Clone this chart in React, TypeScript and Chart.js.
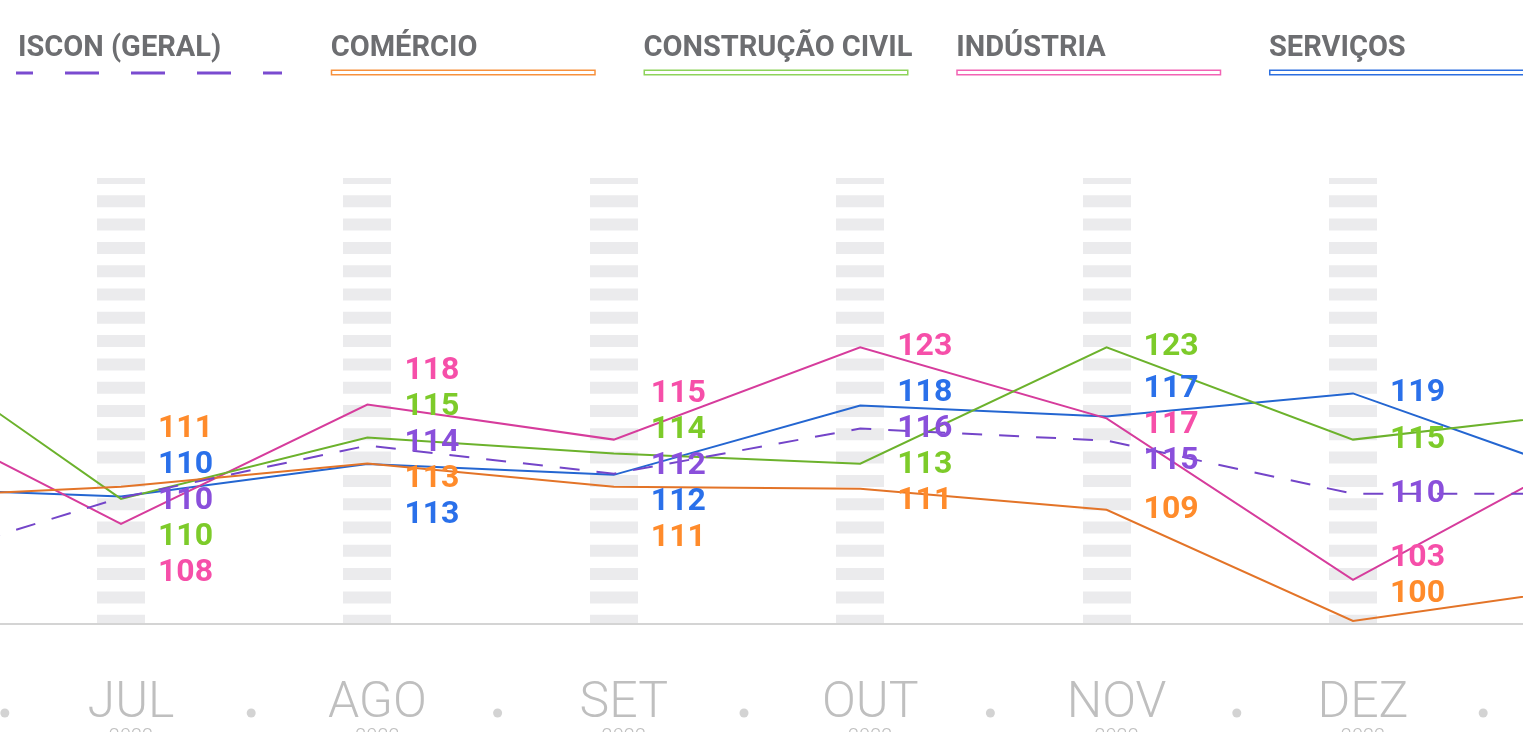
import React, { useEffect, useRef } from 'react';
import { Chart, registerables } from 'chart.js';

Chart.register(...registerables);

// Categories (index 0 = JUN and 7 = JAN sit just outside the visible window)
const MONTHS = ['JUN', 'JUL', 'AGO', 'SET', 'OUT', 'NOV', 'DEZ', 'JAN'];
const YEARS = ['2022', '2022', '2022', '2022', '2022', '2022', '2022', '2023'];

// Series values
const ISCON_GERAL = [103.85, 110.1, 114.43, 112.1, 115.85, 114.85, 110.43, 110.43];
const COMERCIO = [110.02, 111.02, 112.95, 111.02, 110.85, 109.1, 99.85, 102.77];
const CONSTRUCAO_CIVIL = [124.35, 110.0, 115.1, 113.77, 112.93, 122.6, 114.93, 117.3];
const INDUSTRIA = [118.43, 107.93, 117.85, 114.93, 122.6, 116.7, 103.27, 114.35];
const SERVICOS = [110.95, 110.2, 112.9, 112.0, 117.77, 116.85, 118.77, 111.52];

const SERIES_NAMES = ['ISCON (GERAL)', 'COMÉRCIO', 'CONSTRUÇÃO CIVIL', 'INDÚSTRIA', 'SERVIÇOS'];
const SERIES_VALUES = [ISCON_GERAL, COMERCIO, CONSTRUCAO_CIVIL, INDUSTRIA, SERVICOS];

const LINE_COLORS = ['#7445c9', '#e37428', '#6cb22c', '#d63c9c', '#2466d1'];
const LABEL_COLORS = ['#8a4fdb', '#ff8b2b', '#7dcb2a', '#f64fa9', '#2a70ea'];
const LEGEND_COLORS = ['#7a4bd0', '#f7913d', '#8ed35b', '#f263b4', '#2c6fe0'];

const FONT = 'Roboto, "Noto Sans", sans-serif';
const TICK_SHIFT = 10;

function spread(targets: number[], gap: number, lo: number, hi: number): number[] {
  type Cl = { n: number; sum: number; pos: number };
  const cls: Cl[] = [];
  const fix = (c: Cl) => {
    let p = c.sum / c.n - ((c.n - 1) * gap) / 2;
    p = Math.max(lo, Math.min(p, hi - (c.n - 1) * gap));
    c.pos = p;
  };
  targets.forEach((t) => {
    const c: Cl = { n: 1, sum: t, pos: t };
    fix(c);
    cls.push(c);
    while (cls.length > 1) {
      const b = cls[cls.length - 1];
      const a = cls[cls.length - 2];
      if (a.pos + a.n * gap > b.pos) {
        a.n += b.n;
        a.sum += b.sum;
        cls.pop();
        fix(a);
      } else break;
    }
  });
  const out: number[] = [];
  cls.forEach((c) => {
    for (let k = 0; k < c.n; k++) out.push(c.pos + k * gap);
  });
  return out;
}

const decor = {
  id: 'decor',
  afterDraw(chart: any) {
    const { ctx, chartArea } = chart;
    const xs = chart.scales.x;
    ctx.save();
    // separator dots between months
    ctx.fillStyle = '#d3d3d3';
    for (let k = Math.floor(xs.min) + 0.5; k <= xs.max + 0.5; k += 1) {
      const px = xs.getPixelForValue(k) + 7;
      ctx.beginPath();
      ctx.arc(px, chartArea.bottom + 89, 4.5, 0, Math.PI * 2);
      ctx.fill();
    }
    // year line under month ticks
    ctx.fillStyle = '#bfbfbf';
    ctx.font = `300 20px ${FONT}`;
    ctx.textAlign = 'center';
    ctx.textBaseline = 'middle';
    xs.ticks.forEach((t: any) => {
      const px = xs.getPixelForValue(t.value) + TICK_SHIFT;
      ctx.fillText(YEARS[t.value], px, chartArea.bottom + 114);
    });

    // legend
    SERIES_NAMES.forEach((name, i) => {
      const x0 = 18 + i * 312.75;
      ctx.font = `bold 29px ${FONT}`;
      ctx.fillStyle = '#6d6e71';
      ctx.textAlign = 'left';
      ctx.textBaseline = 'alphabetic';
      ctx.fillText(name, x0, 56);
      if (i === 0) {
        ctx.strokeStyle = LEGEND_COLORS[i];
        ctx.lineWidth = 3;
        ctx.setLineDash([34, 32]);
        ctx.lineDashOffset = 17;
        ctx.beginPath();
        ctx.moveTo(x0 - 2, 73);
        ctx.lineTo(x0 + 264, 73);
        ctx.stroke();
        ctx.setLineDash([]);
      } else {
        ctx.fillStyle = '#ffffff';
        ctx.fillRect(x0, 70, 264, 5);
        ctx.strokeStyle = LEGEND_COLORS[i];
        ctx.lineWidth = 1.5;
        ctx.strokeRect(x0 + 0.75, 70.25, 263.5, 4.5);
      }
    });
    ctx.restore();
  },
  afterDatasetsDraw(chart: any) {
    const { ctx, chartArea } = chart;
    const xs = chart.scales.x;
    const ys = chart.scales.y;
    ctx.save();
    ctx.font = `bold 32px ${FONT}`;
    ctx.textAlign = 'left';
    ctx.textBaseline = 'middle';
    MONTHS.forEach((_, i) => {
      const px = xs.getPixelForValue(i);
      if (px < chartArea.left || px > chartArea.right) return;
      const items = SERIES_VALUES.map((vals, d) => ({ d, v: vals[i], y: ys.getPixelForValue(vals[i]) }));
      items.sort((a, b) => a.y - b.y);
      const pos = spread(items.map((it) => it.y), 36, chartArea.top + 20, chartArea.bottom - 30);
      items.forEach((it, k) => {
        ctx.fillStyle = LABEL_COLORS[it.d];
        ctx.fillText(String(Math.round(it.v)), px + 37, pos[k]);
      });
    });
    ctx.restore();
  },
};

export default function App() {
  const ref = useRef<HTMLCanvasElement | null>(null);

  useEffect(() => {
    if (!ref.current) return;
    const xMin = 0.5089;
    const xMax = 6.69;
    const monthTicks = (axis: any) => {
      axis.ticks = MONTHS.map((_, i) => ({ value: i })).filter((t) => t.value >= axis.min && t.value <= axis.max);
    };
    const chart = new Chart(ref.current, {
      type: 'line',
      data: {
        datasets: SERIES_VALUES.map((vals, d) => ({
          label: SERIES_NAMES[d],
          data: vals.map((v, i) => ({ x: i, y: v })),
          borderColor: LINE_COLORS[d],
          backgroundColor: LINE_COLORS[d],
          borderWidth: 2,
          borderDash: d === 0 ? [20, 17] : [],
          pointRadius: 0,
          pointHoverRadius: 0,
          tension: 0,
          fill: false,
        })),
      },
      options: {
        responsive: true,
        maintainAspectRatio: false,
        animation: false,
        events: [],
        layout: { padding: { top: 178, left: 0, right: 0, bottom: 36 } },
        plugins: {
          legend: { display: false },
          tooltip: { enabled: false },
        },
        scales: {
          x: {
            type: 'linear',
            position: 'bottom',
            min: xMin,
            max: xMax,
            afterBuildTicks: monthTicks,
            grid: { display: false, drawTicks: false, drawOnChartArea: false },
            border: { display: true, color: '#d4d4d4', width: 2 },
            ticks: {
              padding: 55,
              labelOffset: TICK_SHIFT,
              maxRotation: 0,
              autoSkip: false,
              color: '#bfbfbf',
              font: { family: FONT, size: 50, weight: '300', lineHeight: 1.0 },
              callback: (v: any) => MONTHS[Number(v)] ?? '',
            },
          },
          x2: {
            type: 'linear',
            position: 'bottom',
            min: xMin,
            max: xMax,
            afterBuildTicks: monthTicks,
            grid: { display: true, drawTicks: false, drawOnChartArea: true, lineWidth: 48, color: '#ebebed' },
            border: { display: false, dash: [12, 11.3], dashOffset: 6 },
            ticks: { display: false },
          },
          y: {
            type: 'linear',
            display: false,
            min: 99.6,
            max: 136.68,
          },
        },
      },
      plugins: [decor],
    });
    return () => chart.destroy();
  }, []);

  return (
    <div
      style={{
        position: 'fixed',
        left: 0,
        top: 0,
        width: 1523,
        height: 732,
        overflow: 'hidden',
        background: '#ffffff',
      }}
    >
      <div style={{ position: 'relative', width: 1523, height: 820 }}>
        <canvas ref={ref} />
      </div>
    </div>
  );
}
